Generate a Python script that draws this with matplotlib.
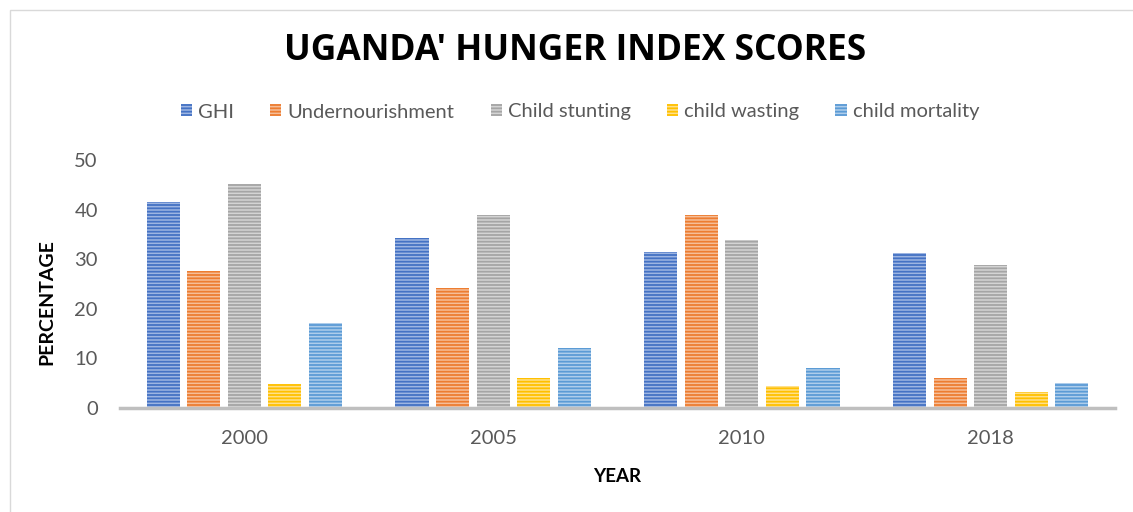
import matplotlib.pyplot as plt
import numpy as np
from matplotlib.patches import Patch, Rectangle

plt.rcParams['font.family'] = ['Lato', 'DejaVu Sans']
plt.rcParams['hatch.linewidth'] = 1.3

#%%
# Data
years = ['2000', '2005', '2010', '2018']
series_names = ['GHI', 'Undernourishment', 'Child stunting', 'child wasting', 'child mortality']
ghi = [41.5, 34.3, 31.4, 31.3]
undernourishment = [27.7, 24.1, 38.9, 6.1]
child_stunting = [45.1, 39.0, 33.9, 28.9]
child_wasting = [4.9, 6.0, 4.5, 3.3]
child_mortality = [17.1, 12.0, 8.0, 5.1]

values = [ghi, undernourishment, child_stunting, child_wasting, child_mortality]
dark = ['#4472C4', '#ED7D31', '#A5A5A5', '#FFC000', '#5B9BD5']
light = ['#9DB5E2', '#F6BE98', '#D4D4D4', '#FFE08A', '#AECDEB']

fig = plt.figure(figsize=(11.33, 5.12), dpi=100)
ax = fig.add_axes([120 / 1133, 1 - 408 / 512, 995 / 1133, 248 / 512])

# chart-area border
fig.patches.append(Rectangle((10 / 1133, -0.1), 1.2, 1 - 10 / 512 + 0.1,
                             transform=fig.transFigure, fill=False,
                             edgecolor='#d9d9d9', lw=1))

x = np.arange(len(years))
step = 0.163
width = 0.133
for i, (name, vals) in enumerate(zip(series_names, values)):
    ax.bar(x + (i - 2) * step, vals, width, facecolor=light[i], edgecolor=dark[i],
           hatch='-----', linewidth=0, label=name)

ax.set_xlim(-0.5, 3.5)
ax.set_ylim(0, 50)
ax.set_yticks([0, 10, 20, 30, 40, 50])
ax.set_xticks(x)
ax.set_xticklabels(years)
for s in ax.spines.values():
    s.set_visible(False)
ax.axhline(0, color='#bfbfbf', lw=2.5, clip_on=False, zorder=3)
ax.tick_params(axis='both', length=0, labelsize=14.5, labelcolor='#595959')
ax.tick_params(axis='y', pad=16)
ax.tick_params(axis='x', pad=16)

ax.set_xlabel('YEAR', fontsize=13.5, fontweight='bold', labelpad=15)
fig.text(47 / 1133, 1 - 302 / 512, 'PERCENTAGE', rotation=90, fontsize=14,
         fontweight='bold', ha='center', va='center')

fig.text(575 / 1133, 1 - 51 / 512, "UGANDA' HUNGER INDEX SCORES", fontsize=25.5,
         fontweight='bold', ha='center', va='center', family='Open Sans')

handles = [Patch(facecolor=light[i], edgecolor=dark[i], hatch='-----', linewidth=0)
           for i in range(len(series_names))]
leg = fig.legend(handles, series_names, loc='center', bbox_to_anchor=(580 / 1133, 1 - 112 / 512),
                 ncol=5, frameon=False, fontsize=14.5, handlelength=0.55, handleheight=0.55,
                 handletextpad=0.3, columnspacing=1.8)
for t in leg.get_texts():
    t.set_color('#595959')

fig.savefig('out.png', dpi=100)
